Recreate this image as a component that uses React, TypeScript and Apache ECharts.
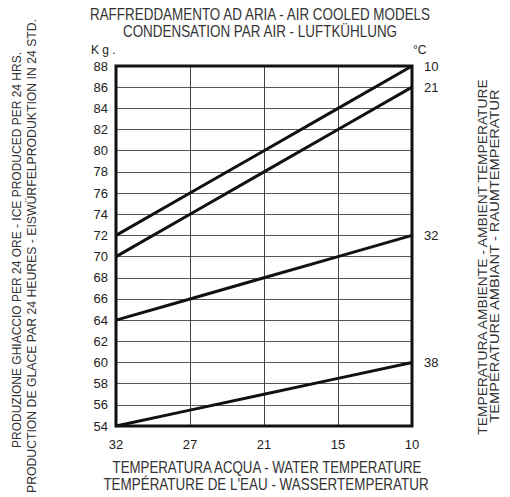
import React, { useEffect, useRef } from "react";
import * as echarts from "echarts";

const waterTemps = ["32", "27", "21", "15", "10"];
const yTicks = { min: 54, max: 88, interval: 2 };
const s10 = [72, 76, 80, 84, 88];
const s21 = [70, 74, 78, 82, 86];
const s32 = [64, 66, 68, 70, 72];
const s38 = [54, 55.5, 57, 58.5, 60];
const seriesNames = ["10", "21", "32", "38"];

const titleLines = ["RAFFREDDAMENTO AD ARIA - AIR COOLED MODELS", "CONDENSATION PAR AIR - LUFTKÜHLUNG"];
const xTitleLines = ["TEMPERATURA ACQUA - WATER TEMPERATURE", "TEMPÉRATURE DE L'EAU - WASSERTEMPERATUR"];
const leftTitleLines = [
  "PRODUZIONE GHIACCIO PER 24 ORE - ICE PRODUCED PER 24 HRS.",
  "PRODUCTION DE GLACE PAR 24 HEURES - EISWÜRFELPRODUKTION IN 24 STD.",
];
const rightTitleLines = [
  "TEMPERATURA AMBIENTE - AMBIENT TEMPERATURE",
  "TEMPÉRATURE AMBIANT - RAUMTEMPERATUR",
];

const SANS = "'Liberation Sans', Arial, sans-serif";

export default function App() {
  const ref = useRef<HTMLDivElement>(null);
  useEffect(() => {
    if (!ref.current) return;
    const chart = echarts.init(ref.current, undefined, { renderer: "svg" });
    const data = [s10, s21, s32, s38];
    const txt = (x: number, y: number, text: string, size: number, sx: number, rot = 0) => ({
      type: "text",
      x,
      y,
      rotation: rot,
      scaleX: sx,
      style: { text, fill: "#333", font: `${size}px ${SANS}`, textAlign: "center", textVerticalAlign: "middle" },
    });
    chart.setOption({
      animation: false,
      backgroundColor: "#fff",
      grid: {
        left: 116,
        right: 98,
        top: 66,
        bottom: 71,
        show: true,
        borderColor: "#111",
        borderWidth: 3,
        z: 3,
      },
      xAxis: {
        type: "category",
        data: waterTemps,
        boundaryGap: false,
        axisLine: { show: false },
        axisTick: { show: false },
        axisLabel: { color: "#222", fontSize: 13, fontFamily: SANS, margin: 12 },
        splitLine: { show: true, lineStyle: { color: "#444", width: 1 } },
      },
      yAxis: {
        type: "value",
        min: yTicks.min,
        max: yTicks.max,
        interval: yTicks.interval,
        axisLine: { show: false },
        axisTick: { show: false },
        axisLabel: { color: "#222", fontSize: 13, fontFamily: SANS, margin: 8 },
        splitLine: { show: true, lineStyle: { color: "#555", width: 1 } },
      },
      series: data.map((d, i) => ({
        type: "line",
        name: seriesNames[i],
        data: d,
        symbol: "none",
        lineStyle: { color: "#111", width: 3 },
        z: 4,
        endLabel: {
          show: true,
          formatter: seriesNames[i],
          color: "#222",
          fontSize: 13,
          fontFamily: SANS,
          distance: 12,
        },
      })),
      graphic: [
        txt(260, 15, titleLines[0], 16, 0.84),
        txt(260, 32, titleLines[1], 16, 0.84),
        {
          type: "text",
          x: 91,
          y: 50,
          style: { text: "K g .", fill: "#222", font: `12px ${SANS}`, textVerticalAlign: "middle" },
        },
        {
          type: "text",
          x: 413,
          y: 50,
          style: { text: "°C", fill: "#222", font: `12px ${SANS}`, textVerticalAlign: "middle" },
        },
        txt(267, 468, xTitleLines[0], 16, 0.83),
        txt(266, 485, xTitleLines[1], 16, 0.84),
        txt(17, 250, leftTitleLines[0], 12, 1.0, Math.PI / 2),
        txt(32, 256, leftTitleLines[1], 12, 1.02, Math.PI / 2),
        txt(483, 257, rightTitleLines[0], 12, 1.15, Math.PI / 2),
        txt(495, 256, rightTitleLines[1], 12, 1.22, Math.PI / 2),
      ],
    });
    return () => chart.dispose();
  }, []);
  return <div ref={ref} style={{ width: 510, height: 497, position: "absolute", left: 0, top: 0 }} />;
}
